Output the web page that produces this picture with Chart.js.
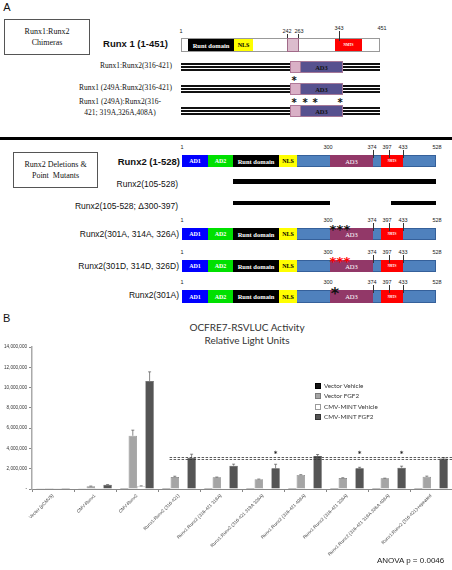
<!DOCTYPE html>
<html>
<head>
<meta charset="utf-8">
<script src="https://cdn.jsdelivr.net/npm/chart.js@4.4.1/dist/chart.umd.min.js"></script>
<style>
body{margin:0;width:452px;height:570px;position:relative;background:#fff;font-family:"Liberation Sans",Arial,sans-serif;overflow:hidden;color:#111}
.a{position:absolute;box-sizing:border-box;white-space:nowrap}
.serif{font-family:"Liberation Serif","Times New Roman",serif}
.seg{display:flex;align-items:center;justify-content:center;font-family:"Liberation Serif",serif;font-weight:bold;font-size:6px;overflow:hidden}
.num{font-size:5.5px;color:#222}
.star{font-family:"DejaVu Sans",sans-serif;font-weight:bold;line-height:1}
</style>
</head>
<body>
<div id="panelA"></div>
<div class="a" style="left:3px;top:312px;font-size:11px">B</div>
<div class="a" style="left:147px;top:321px;width:200px;text-align:center;font-family:Lato,'Open Sans',sans-serif;font-size:10px;line-height:13px;color:#333">OCFRE7-RSVLUC Activity<br>Relative Light Units</div>
<div id="wrap" class="a" style="left:0;top:320px;width:452px;height:250px">
  <canvas id="activityChart" width="452" height="250"></canvas>
</div>
<div id="legend"></div>
<div class="a" style="left:377px;top:556px;font-size:8px;color:#222">ANOVA p = 0.0046</div>
<script>
// ---- panel B data ----
const groups = [
  'Vector (pCMV5)', 'CMV-Runx1', 'CMV-Runx2', 'Runx1:Runx2 (316-421)',
  'Runx1:Runx2 (316-421 319A)', 'Runx1:Runx2 (316-421 319A 326A)',
  'Runx1:Runx2 (316-421 408A)', 'Runx1:Runx2 (316-421 326A)',
  'Runx1:Runx2 (316-421 319A 326A 408A)', 'Runx1:Runx2 (316-421)-repeated'
];
const seriesNames = ['Vector Vehicle', 'Vector FGF2', 'CMV-MINT Vehicle', 'CMV-MINT FGF2'];
const vectorVehicle = [15000, 15000, 100000, 10000, 10000, 10000, 10000, 10000, 10000, 10000];
const vectorFGF2 = [100000, 270000, 5250000, 1180000, 1150000, 960000, 1380000, 1080000, 1050000, 1200000];
const mintVehicle = [10000, 10000, 280000, 60000, 20000, 20000, 20000, 20000, 60000, 60000];
const mintFGF2 = [100000, 420000, 10650000, 3080000, 2300000, 2040000, 3250000, 2040000, 2100000, 3000000];
const vectorFGF2Err = [0, 20000, 550000, 80000, 30000, 20000, 30000, 30000, 20000, 70000];
const mintVehicleErr = [0, 0, 30000, 0, 0, 0, 0, 0, 0, 0];
const mintFGF2Err = [0, 20000, 900000, 350000, 150000, 400000, 150000, 100000, 150000, 100000];
const starGroups = [5, 7, 8];
const starLevel = 3600000;
const refLines = [3150000, 2950000];
const yTicks = [0, 2000000, 4000000, 6000000, 8000000, 10000000, 12000000, 14000000];

const colors = ['#141414', '#a5a5a5', '#ffffff', '#555555'];
const borders = ['#000', '#7a7a7a', '#9a9a9a', '#333'];

// ---- panel A (schematic) ----
const A = document.getElementById('panelA');
function box(x1, y1, x2, y2, css, html, cls) {
  const d = document.createElement('div');
  d.className = 'a ' + (cls || '');
  d.style.cssText = `left:${x1}px;top:${y1}px;width:${x2 - x1}px;height:${y2 - y1}px;` + (css || '');
  d.innerHTML = html || '';
  A.appendChild(d);
  return d;
}
function label(xr, yc, text, css, cls) {
  const d = document.createElement('div');
  d.className = 'a ' + (cls || '');
  d.style.cssText = `right:${452 - xr}px;top:${yc - 6}px;height:12px;line-height:12px;` + (css || '');
  d.innerHTML = text;
  A.appendChild(d);
}
function at(xc, yc, text, css, cls) {
  const d = document.createElement('div');
  d.className = 'a ' + (cls || '');
  d.style.cssText = `left:${xc - 20}px;width:40px;text-align:center;top:${yc - 6}px;height:12px;line-height:12px;` + (css || '');
  d.innerHTML = text;
  A.appendChild(d);
}
function vline(x, y1, y2, c) { box(x, y1, x + 1, y2, 'background:' + (c || '#333')); }

at(7, 7, 'A', 'font-size:11px');
box(4, 19, 90, 55, 'border:1px solid #555;display:flex;align-items:center;justify-content:center;text-align:center;font-size:8px;line-height:11px', 'Runx1:Runx2<br>Chimeras', 'serif');
label(168, 44, 'Runx 1 (1-451)', 'font-weight:bold;font-size:9.5px');

// Runx1 bar
box(181, 38, 380, 52, 'border:1px solid #999;background:#fff');
box(188, 39, 234, 51, 'background:#000;color:#fff;font-size:6.5px', 'Runt domain', 'seg');
box(234, 39, 253, 51, 'background:#ffff00;color:#000', 'NLS', 'seg');
box(287, 38, 299, 52, 'background:#dcbccd;border:1px solid #a06a88');
box(335, 39, 362, 51, 'background:#ff0000;color:#fff;font-size:3.5px', 'NMTS', 'seg');
at(181, 31, '1', '', 'num'); at(287, 31, '242', '', 'num'); at(299, 31, '263', '', 'num');
at(339, 28, '343', '', 'num'); at(382, 28, '451', '', 'num');
vline(287, 34, 38); vline(298, 34, 38); vline(339, 31, 41);

function chimera(yc, stars) {
  [-3, 0, 3].forEach(o => box(181, yc + o - 0.75, 380, yc + o + 0.75, 'background:#111'));
  box(290, yc - 6, 301, yc + 6, 'background:#d9b0c6;border:1px solid #b07898');
  box(300, yc - 6, 343, yc + 6, 'background:#57518f;border:1px solid #a57898;color:#111;font-size:6.5px', 'AD3', 'seg');
  stars.forEach(x => at(x, yc - 7, '*', 'font-size:10px;height:10px;line-height:10px', 'star'));
}
label(172, 66, 'Runx1:Runx2(316-421)', 'font-size:7.5px', 'serif');
chimera(67, []);
label(172, 88, 'Runx1 (249A:Runx2(316-421)', 'font-size:7.5px', 'serif');
chimera(89, [294]);
box(60, 96, 180, 120, 'text-align:center;font-size:7.5px;line-height:11px;white-space:normal', 'Runx1 (249A):Runx2(316-<br>421; 319A,326A,408A)', 'serif');
chimera(111, [294, 305, 315, 340]);

box(0, 137, 452, 139.5, 'background:#000');

box(13, 152, 98, 188, 'border:1px solid #555;display:flex;align-items:center;justify-content:center;text-align:center;font-size:8px;line-height:11px', 'Runx2 Deletions &amp;<br>Point&nbsp; Mutants', 'serif');

function runx2Row(y1, y2) {
  box(182, y1, 436, y2, 'background:#4f81bd;border:0.5px solid #35609a');
  box(182, y1, 208, y2, 'background:#0000ff;color:#fff', 'AD1', 'seg');
  box(208, y1, 233, y2, 'background:#00e000;color:#fff', 'AD2', 'seg');
  box(233, y1, 279, y2, 'background:#000;color:#fff;font-size:6.5px', 'Runt domain', 'seg');
  box(279, y1, 297, y2, 'background:#ffff00;color:#000', 'NLS', 'seg');
  box(330, y1, 373, y2, 'background:#923868;color:#fff;font-weight:normal;font-size:6.5px', 'AD3', 'seg');
  box(381, y1, 403, y2, 'background:#ff0000;color:#fff;font-size:3px', 'NMTS', 'seg');
  const ny = y1 - 8;
  at(182, ny, '1', '', 'num'); at(328, ny, '300', '', 'num'); at(372, ny, '374', '', 'num');
  at(387, ny, '397', '', 'num'); at(403, ny, '433', '', 'num'); at(437, ny, '528', '', 'num');
  vline(373, y1 - 5, y1 + 3); vline(389, y1 - 5, y1 + 3); vline(403, y1 - 5, y1 + 3);
}
label(180, 162, 'Runx2 (1-528)', 'font-weight:bold;font-size:9.5px');
runx2Row(155, 167);
label(178, 184, 'Runx2(105-528)', 'font-size:8.5px');
box(233, 179, 436, 183.5, 'background:#000');
label(178, 206, 'Runx2(105-528; &#916;300-397)', 'font-size:8.5px');
box(233, 200.5, 330, 205, 'background:#000');
box(391, 200.5, 436, 205, 'background:#000');

label(179, 234, 'Runx2(301A, 314A, 326A)', 'font-size:8.5px');
runx2Row(228, 240);
[333, 340, 347].forEach(x => at(x, 229, '*', 'font-size:13px;height:13px;line-height:13px', 'star'));
label(179, 266, 'Runx2(301D, 314D, 326D)', 'font-size:8.5px');
runx2Row(260, 272);
[333, 340, 347].forEach(x => at(x, 261, '*', 'font-size:13px;height:13px;line-height:13px;color:#f00', 'star'));
label(179, 295, 'Runx2(301A)', 'font-size:8.5px');
runx2Row(290, 303);
at(335, 292, '*', 'font-size:16px;height:16px;line-height:16px', 'star');

// ---- legend ----
const L = document.getElementById('legend');
seriesNames.forEach((n, i) => {
  const y = 385.5 + i * 10.5;
  const d = document.createElement('div');
  d.className = 'a';
  d.style.cssText = `left:315px;top:${y - 5}px;height:10px;line-height:10px;font-family:Lato,'Open Sans',sans-serif;font-size:6.3px;color:#333`;
  d.innerHTML = `<span style="display:inline-block;width:4px;height:4px;background:${colors[i]};border:0.5px solid ${borders[i]};margin-right:3px;vertical-align:middle"></span>${n}`;
  L.appendChild(d);
});

// ---- chart ----
const errs = [null, vectorFGF2Err, mintVehicleErr, mintFGF2Err];
const extras = {
  id: 'extras',
  afterDatasetsDraw(chart) {
    const c = chart.ctx, y = chart.scales.y, area = chart.chartArea;
    c.save();
    // error bars
    c.strokeStyle = '#555'; c.lineWidth = 0.7;
    errs.forEach((e, i) => {
      if (!e) return;
      const meta = chart.getDatasetMeta(i);
      meta.data.forEach((bar, j) => {
        if (!e[j]) return;
        const v = chart.data.datasets[i].data[j];
        const yt = y.getPixelForValue(v + e[j]);
        c.beginPath();
        c.moveTo(bar.x, bar.y); c.lineTo(bar.x, yt);
        c.moveTo(bar.x - 1.5, yt); c.lineTo(bar.x + 1.5, yt);
        c.stroke();
      });
    });
    // dashed reference lines
    const startBar = chart.getDatasetMeta(1).data[3];
    const x0 = startBar.x - startBar.width / 2 - 1;
    c.setLineDash([2.5, 1.5]); c.strokeStyle = '#333'; c.lineWidth = 0.8;
    refLines.forEach(v => {
      const py = Math.round(y.getPixelForValue(v)) + 0.5;
      c.beginPath(); c.moveTo(x0, py); c.lineTo(area.right, py); c.stroke();
    });
    c.setLineDash([]);
    // significance stars
    c.fillStyle = '#222'; c.font = 'bold 7px "DejaVu Sans"'; c.textAlign = 'center'; c.textBaseline = 'middle';
    const dark = chart.getDatasetMeta(3);
    starGroups.forEach(g => c.fillText('*', dark.data[g].x, y.getPixelForValue(starLevel) + 1.5));
    c.restore();
  }
};

const ds = [vectorVehicle, vectorFGF2, mintVehicle, mintFGF2].map((d, i) => ({
  label: seriesNames[i], data: d, backgroundColor: colors[i], borderColor: borders[i],
  borderWidth: 0.6, categoryPercentage: 0.8, barPercentage: 1.0
}));

new Chart(document.getElementById('activityChart').getContext('2d'), {
  type: 'bar',
  data: { labels: groups, datasets: ds },
  plugins: [extras],
  options: {
    responsive: false,
    animation: false,
    devicePixelRatio: 1,
    layout: { padding: { top: 27, left: 0, right: 0, bottom: 0 } },
    plugins: { legend: { display: false }, tooltip: { enabled: false } },
    scales: {
      x: {
        grid: { display: true, offset: true, drawOnChartArea: false, tickLength: 3, color: '#888' },
        border: { color: '#888', width: 1 },
        ticks: { font: { size: 4.6, family: 'Liberation Sans' }, color: '#444', minRotation: 45, maxRotation: 45, padding: 1, autoSkip: false },
        afterFit(s) { s.height = 81; s.paddingLeft = 0; s.paddingRight = 0; }
      },
      y: {
        min: 0, max: 14000000,
        afterBuildTicks(s) { s.ticks = yTicks.map(v => ({ value: v })); },
        grid: { drawOnChartArea: false, tickLength: 3, color: '#888' },
        border: { color: '#aaa', width: 1.5 },
        ticks: { font: { size: 4.6, family: 'Liberation Sans' }, color: '#333', padding: 2,
          callback: v => v === 0 ? '-' : v.toLocaleString('en-US') },
        afterFit(s) { s.width = 32; }
      }
    }
  }
});
</script>
</body>
</html>
